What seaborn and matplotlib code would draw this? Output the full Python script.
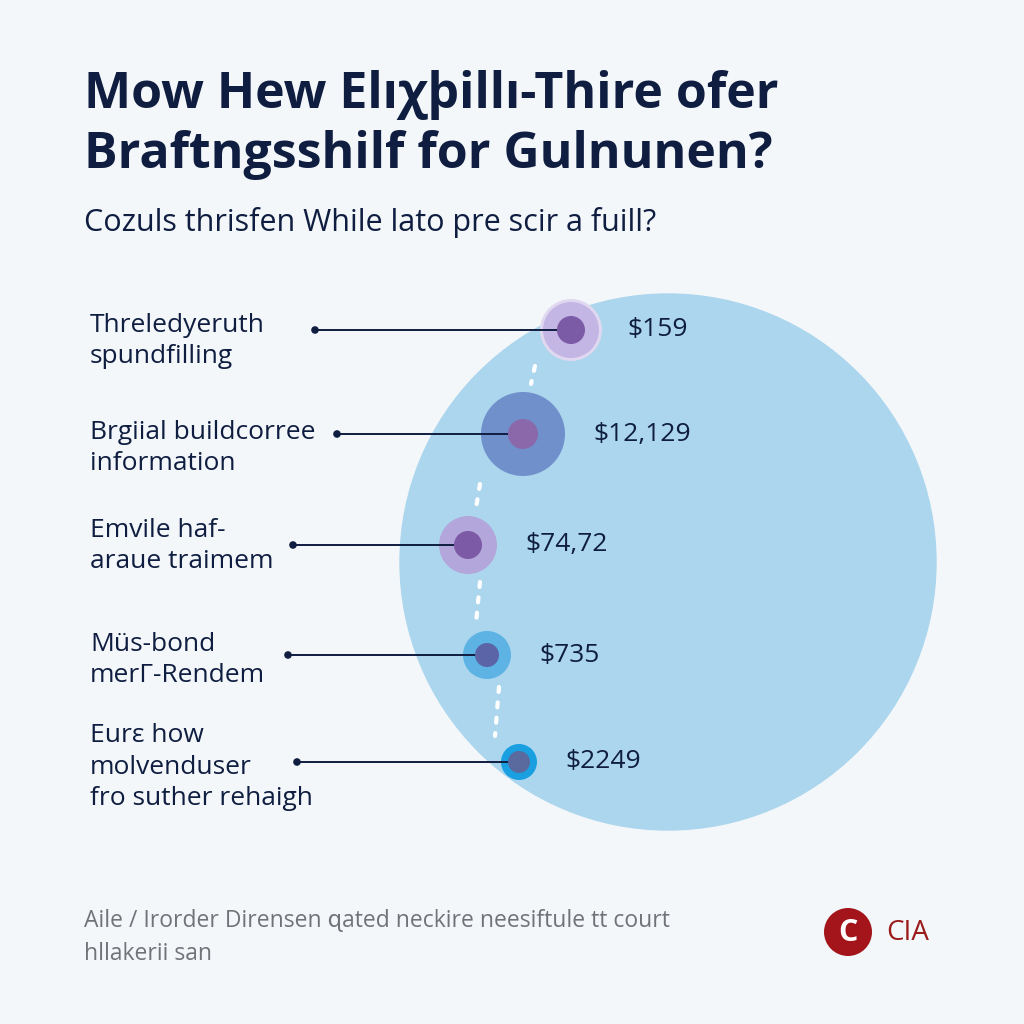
import matplotlib
matplotlib.use('Agg')
from matplotlib import pyplot as plt
from matplotlib.patches import Circle
import seaborn as sns
import numpy as np
import pandas as pd

# data
labels = ['Threledyeruth\nspundfilling',
          'Brgiial buildcorree\ninformation',
          'Emvile haf-\naraue traimem',
          'Müs-bond\nmerГ-Rendem',
          'Eurε how\nmolvenduser\nfro suther rehaigh']
values = ['$159', '$12,129', '$74,72', '$735', '$2249']
row_y = [330, 434, 545, 655, 762]
bubble_x = [571, 523, 468, 487, 519]
dot_x = [315, 337, 293, 288, 297]
outer_r = [28, 42, 29, 24, 18]
inner_r = [14, 15, 14, 12, 11]
outer_colors = ['#c4b6e4', '#7090cc', '#b3a6da', '#5db3e3', '#1a9fe0']
inner_colors = ['#7b5aa6', '#8a68aa', '#7c5aa5', '#5a64a6', '#5a6a9e']

title = 'Mow Hew Elıχþillı-Thire ofer\nBraftngsshilf for Gulnunen?'
subtitle = 'Cozuls thrisfen While lato pre scir a fuill?'
footer = 'Aile / Irorder Dirensen ɋated neckire neesiftule tt court\nhllakerii san'

sns.set_style('white')
plt.rcParams['font.family'] = ['Open Sans', 'DejaVu Sans']

bg = '#f3f7fa'
navy = '#0f1d40'
fig = plt.figure(figsize=(10.24, 10.24), dpi=100, facecolor=bg)
ax = fig.add_axes([0, 0, 1, 1])
ax.set_facecolor(bg)
ax.set_xlim(0, 1024)
ax.set_ylim(1024, 0)
ax.axis('off')

# big backdrop circle
ax.add_patch(Circle((668, 562), 268, color='#acd6ee', zorder=1))

df = pd.DataFrame({'label': labels, 'value': values, 'y': row_y,
                   'bx': bubble_x, 'dx': dot_x,
                   'ro': outer_r, 'ri': inner_r})


def px_to_s(r):
    return (2 * np.asarray(r) * 0.72) ** 2


# dotted white path between bubbles
for i in range(len(df) - 1):
    y0 = df.y[i] + df.ro[i] + 8
    y1 = df.y[i + 1] - df.ro[i + 1] - 8
    xm = min(df.bx[i], df.bx[i + 1])
    ax.plot([xm + 12, xm + 8], [y0, y1], ls=(0, (1.2, 2.5)), color='white',
            lw=3, zorder=2, dash_capstyle='round')

# halo for the first bubble
sns.scatterplot(x=[df.bx[0]], y=[df.y[0]], s=px_to_s([df.ro[0] + 3]),
                color='#e0d8f0', edgecolor='none', ax=ax, zorder=3, legend=False)

sns.scatterplot(data=df, x='bx', y='y', hue='label', palette=outer_colors,
                s=px_to_s(df.ro), edgecolor='none', ax=ax, zorder=4, legend=False)

# leader lines
for _, r in df.iterrows():
    ax.plot([r.dx, r.bx], [r.y, r.y], color=navy, lw=1.4, zorder=5)
sns.scatterplot(data=df, x='dx', y='y', color=navy, s=30, edgecolor='none',
                ax=ax, zorder=6, legend=False)

sns.scatterplot(data=df, x='bx', y='y', hue='label', palette=inner_colors,
                s=px_to_s(df.ri), edgecolor='none', ax=ax, zorder=7, legend=False)

# value labels
for _, r in df.iterrows():
    ax.text(r.bx + r.ro + 28, r.y, r.value, fontsize=19, color=navy,
            va='center', ha='left', zorder=8)

# category labels (vertical offset of each text block from its row)
label_shift = [11, 14, 1, 5, 5]
for (_, r), dy in zip(df.iterrows(), label_shift):
    ax.text(90, r.y + dy, r.label, fontsize=19, color=navy, va='center',
            ha='left', linespacing=1.33)

# titles
ax.text(84, 70, title, fontsize=36, fontweight='bold', color=navy,
        va='top', ha='left', linespacing=1.25)
ax.text(84, 222, subtitle, fontsize=22, color=navy, va='center', ha='left')

# footer
ax.text(84, 937, footer, fontsize=16.5, color='#707479', va='center', ha='left',
        linespacing=1.5)
sns.scatterplot(x=[848], y=[932], s=px_to_s([24]), color='#a3151b',
                edgecolor='none', ax=ax, legend=False)
ax.text(848, 933, 'C', fontsize=22, fontweight='bold', color='white',
        ha='center', va='center')
ax.text(886, 933, 'CIA', fontsize=20, color='#9b1b1b', ha='left', va='center')

fig.savefig('out.png', dpi=100, facecolor=bg)
